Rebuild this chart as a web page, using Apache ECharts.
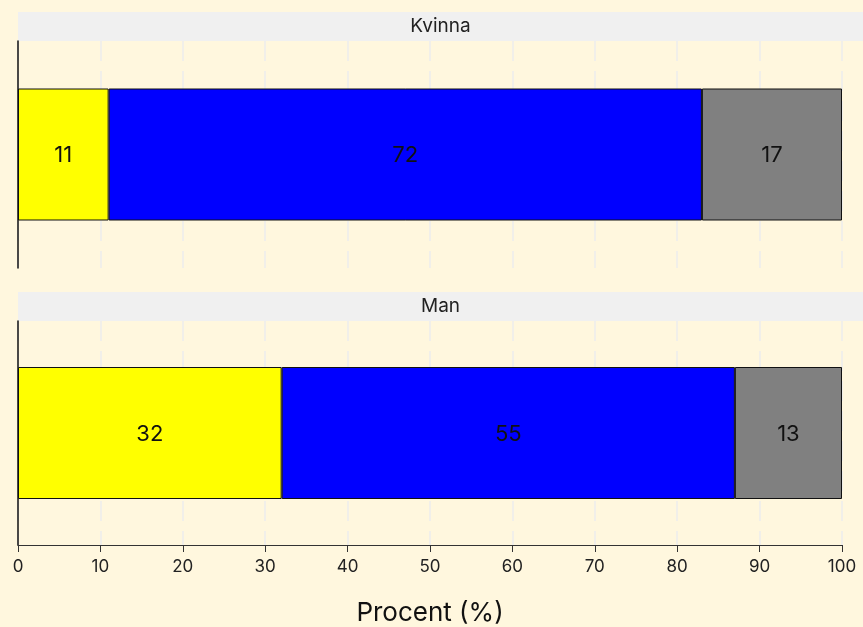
<!DOCTYPE html>
<html><head><meta charset="utf-8">
<script src="https://cdn.jsdelivr.net/npm/echarts@6/dist/echarts.min.js"></script>
<style>html,body{margin:0;padding:0;background:#FFF7DE;}#c{width:863px;height:627px;}</style>
</head><body><div id="c"></div>
<script>
const panels = ['Kvinna', 'Man'];
const groups = ['A', 'B', 'C'];
const colors = ['#FFFF00', '#0000FF', '#808080'];
const kvinnaValues = [11, 72, 17];
const manValues = [32, 55, 13];
const xTicks = [0, 10, 20, 30, 40, 50, 60, 70, 80, 90, 100];
const FONT = 'Inter, "Liberation Sans", sans-serif';

const chart = echarts.init(document.getElementById('c'));
const gridTops = [41, 321];
const gridH = [227, 227];
const grids = gridTops.map((t, i) => ({left: 18, width: 824, top: t, height: gridH[i]}));
const xAxes = [0, 1].map(i => ({
  type: 'value', gridIndex: i, min: xTicks[0], max: xTicks[xTicks.length - 1], interval: 10,
  axisLine: {show: i === 1, onZero: false, lineStyle: {color: '#333', width: 1}},
  axisTick: {show: i === 1, length: 7, lineStyle: {color: '#333'}},
  axisLabel: {show: i === 1, color: '#222', fontSize: 17, fontFamily: FONT, margin: 13},
  splitLine: {show: true, lineStyle: {color: '#EDEDED', width: 1.5, type: [20, 10]}},
  name: i === 1 ? 'Procent (%)' : '', nameLocation: 'middle', nameGap: 55,
  nameTextStyle: {fontSize: 26, color: '#111', fontFamily: FONT}
}));
const yAxes = [0, 1].map(i => ({
  type: 'category', gridIndex: i, data: [panels[i]],
  axisLine: {show: true, lineStyle: {color: '#111', width: 1.5}},
  axisTick: {show: false}, axisLabel: {show: false}, splitLine: {show: false}
}));
const series = [];
[kvinnaValues, manValues].forEach((vals, p) => {
  vals.forEach((v, k) => {
    series.push({
      type: 'bar', xAxisIndex: p, yAxisIndex: p, stack: 'p' + p, name: groups[k],
      data: [v], barWidth: 132,
      itemStyle: {color: colors[k], borderColor: '#111', borderWidth: 1},
      label: {show: true, position: 'inside', color: '#111', fontSize: 22, fontFamily: FONT, offset: [0, 1]},
      emphasis: {disabled: true}
    });
  });
});
const graphic = gridTops.map((t, i) => ({
  type: 'group', children: [
    {type: 'rect', shape: {x: 18, y: t - 29, width: 845, height: 29}, style: {fill: '#F0F0F0'}, z: 0},
    {type: 'text', x: 440.5, y: t - 14.5, style: {text: panels[i], fontSize: 19, fontFamily: FONT, fill: '#222', align: 'center', verticalAlign: 'middle'}, z: 1}
  ]
}));
chart.setOption({
  backgroundColor: '#FFF7DE', animation: false,
  grid: grids, xAxis: xAxes, yAxis: yAxes, series: series, graphic: graphic
});
</script></body></html>
